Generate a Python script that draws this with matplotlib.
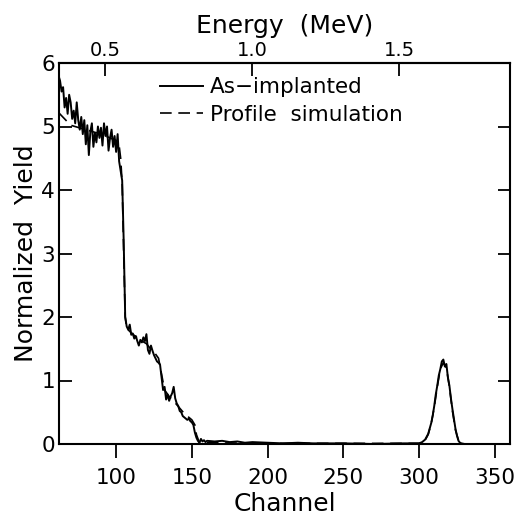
import matplotlib
matplotlib.use("Agg")
import matplotlib.pyplot as plt
import numpy as np

# ---------------- data ----------------
exp_channel = [62, 63, 64, 65, 66, 67, 68, 69, 70, 71, 72, 73, 74, 75, 76, 77, 78, 79,
               80, 81, 82, 83, 84, 85, 86, 87, 88, 89, 90, 91, 92, 93, 94, 95, 96, 97,
               98, 99, 100, 101, 102, 103, 104, 105, 106, 107, 108, 109, 110, 111, 112,
               113, 114, 115, 116, 117, 118, 119, 120, 121, 122, 123, 124, 125, 126,
               127, 128, 129, 130, 131, 132, 133, 134, 135, 136, 137, 138, 139, 140,
               141, 142, 143, 144, 145, 146, 147, 148, 149, 150, 151, 152, 153, 154,
               155, 156, 157, 158, 159, 160, 165, 170, 175, 180, 185, 190, 200, 210,
               220, 230, 250, 270, 290, 300, 302, 304, 306, 308, 309, 310, 311, 312,
               313, 314, 315, 316, 317, 318, 319, 320, 321, 322, 323, 324, 325, 326,
               327, 328, 330, 340, 360]
exp_yield = [5.80, 5.72, 5.55, 5.62, 5.30, 5.45, 5.20, 5.50, 5.38, 5.12, 5.25, 5.05, 5.38,
             5.10, 4.95, 5.15, 4.88, 5.10, 4.72, 5.02, 4.55, 4.92, 5.05, 4.68, 4.90, 4.75,
             5.00, 4.82, 4.98, 4.70, 5.05, 4.85, 5.00, 4.62, 4.82, 4.95, 4.68, 4.85, 4.60,
             4.88, 4.45, 4.30, 4.15, 3.20, 2.00, 1.85, 1.80, 1.88, 1.72, 1.74, 1.66, 1.70,
             1.62, 1.55, 1.64, 1.60, 1.68, 1.62, 1.73, 1.48, 1.42, 1.55, 1.47, 1.40, 1.35,
             1.30, 1.28, 1.25, 1.05, 0.85, 0.90, 0.70, 0.78, 0.68, 0.75, 0.80, 0.90, 0.72,
             0.64, 0.60, 0.52, 0.50, 0.44, 0.42, 0.40, 0.38, 0.40, 0.36, 0.34, 0.30, 0.18,
             0.10, 0.05, 0.02, 0.08, 0.04, 0.06, 0.03, 0.05, 0.04, 0.05, 0.03, 0.04, 0.02,
             0.03, 0.02, 0.01, 0.02, 0.01, 0.01, 0.00, 0.01, 0.01, 0.03, 0.07, 0.16, 0.33,
             0.45, 0.60, 0.78, 0.92, 1.08, 1.18, 1.30, 1.33, 1.22, 1.26, 1.05, 0.92, 0.72,
             0.55, 0.40, 0.24, 0.13, 0.05, 0.02, 0.01, 0.00, 0.00, 0.00]

sim_channel = [62, 66, 70, 80, 90, 100, 102, 103, 104, 105, 106, 107, 110, 115, 120, 122,
               125, 128, 130, 132, 135, 140, 145, 148, 150, 152, 153, 155, 160, 200, 300,
               304, 306, 308, 310, 312, 314, 316, 318, 320, 322, 324, 326, 328, 330, 360]
sim_yield = [5.22, 5.12, 5.02, 4.95, 4.88, 4.78, 4.70, 4.50, 4.10, 3.00, 2.00, 1.82, 1.75,
             1.65, 1.58, 1.52, 1.45, 1.35, 1.10, 0.85, 0.75, 0.62, 0.48, 0.42, 0.38, 0.30,
             0.15, 0.02, 0.02, 0.01, 0.01, 0.06, 0.15, 0.32, 0.58, 0.90, 1.18, 1.28, 1.20,
             0.90, 0.52, 0.22, 0.06, 0.01, 0.00, 0.00]

x_ticks = [100, 150, 200, 250, 300, 350]
y_ticks = [0, 1, 2, 3, 4, 5, 6]
energy_ticks = [0.5, 1.0, 1.5]
labels = ["As\u2212implanted", "Profile  simulation"]

# energy calibration (MeV per channel)
E_ref_channel = 92.8
E_ref = 0.5
E_per_channel = 0.5 / 97.0


def ch2e(c):
    return E_ref + (np.asarray(c, dtype=float) - E_ref_channel) * E_per_channel


def e2ch(e):
    return E_ref_channel + (np.asarray(e, dtype=float) - E_ref) / E_per_channel


# ---------------- figure ----------------
plt.rcParams['font.family'] = ['DejaVu Sans']
fig = plt.figure(figsize=(5.16, 5.17), dpi=100)
ax = fig.add_axes([59 / 516, 1 - 444 / 517, 451 / 516, 381 / 517])

ax.plot(exp_channel, exp_yield, color='black', lw=1.4, label=labels[0])
ax.plot(sim_channel, sim_yield, color='black', lw=1.2, ls=(0, (7, 4)), label=labels[1])

ax.set_xlim(62.3, 360)
ax.set_ylim(0, 6)
ax.set_xticks(x_ticks)
ax.set_yticks(y_ticks)

for s in ax.spines.values():
    s.set_linewidth(1.5)

ax.tick_params(axis='x', direction='out', length=10, width=1.3, labelsize=15.5, pad=7,
               top=False)
ax.tick_params(axis='y', direction='in', length=9, width=1.3, labelsize=15.5, pad=3,
               left=True, right=True)

ax.set_xlabel('Channel', fontsize=18, labelpad=3)
ax.set_ylabel('Normalized  Yield', fontsize=18, labelpad=2)

sec = ax.secondary_xaxis('top', functions=(ch2e, e2ch))
sec.set_xticks(energy_ticks)
sec.set_xticklabels(['0.5', '1.0', '1.5'])
sec.tick_params(direction='in', length=9, width=1.3, labelsize=14, pad=2)
sec.set_xlabel('Energy  (MeV)', fontsize=18, labelpad=6)
sec.spines['top'].set_linewidth(1.5)

leg = ax.legend(loc='upper left', bbox_to_anchor=(0.205, 0.985), frameon=False,
                fontsize=15.5, handlelength=2.0, handletextpad=0.3, labelspacing=0.35,
                borderaxespad=0)

fig.savefig('out.png', dpi=100)
